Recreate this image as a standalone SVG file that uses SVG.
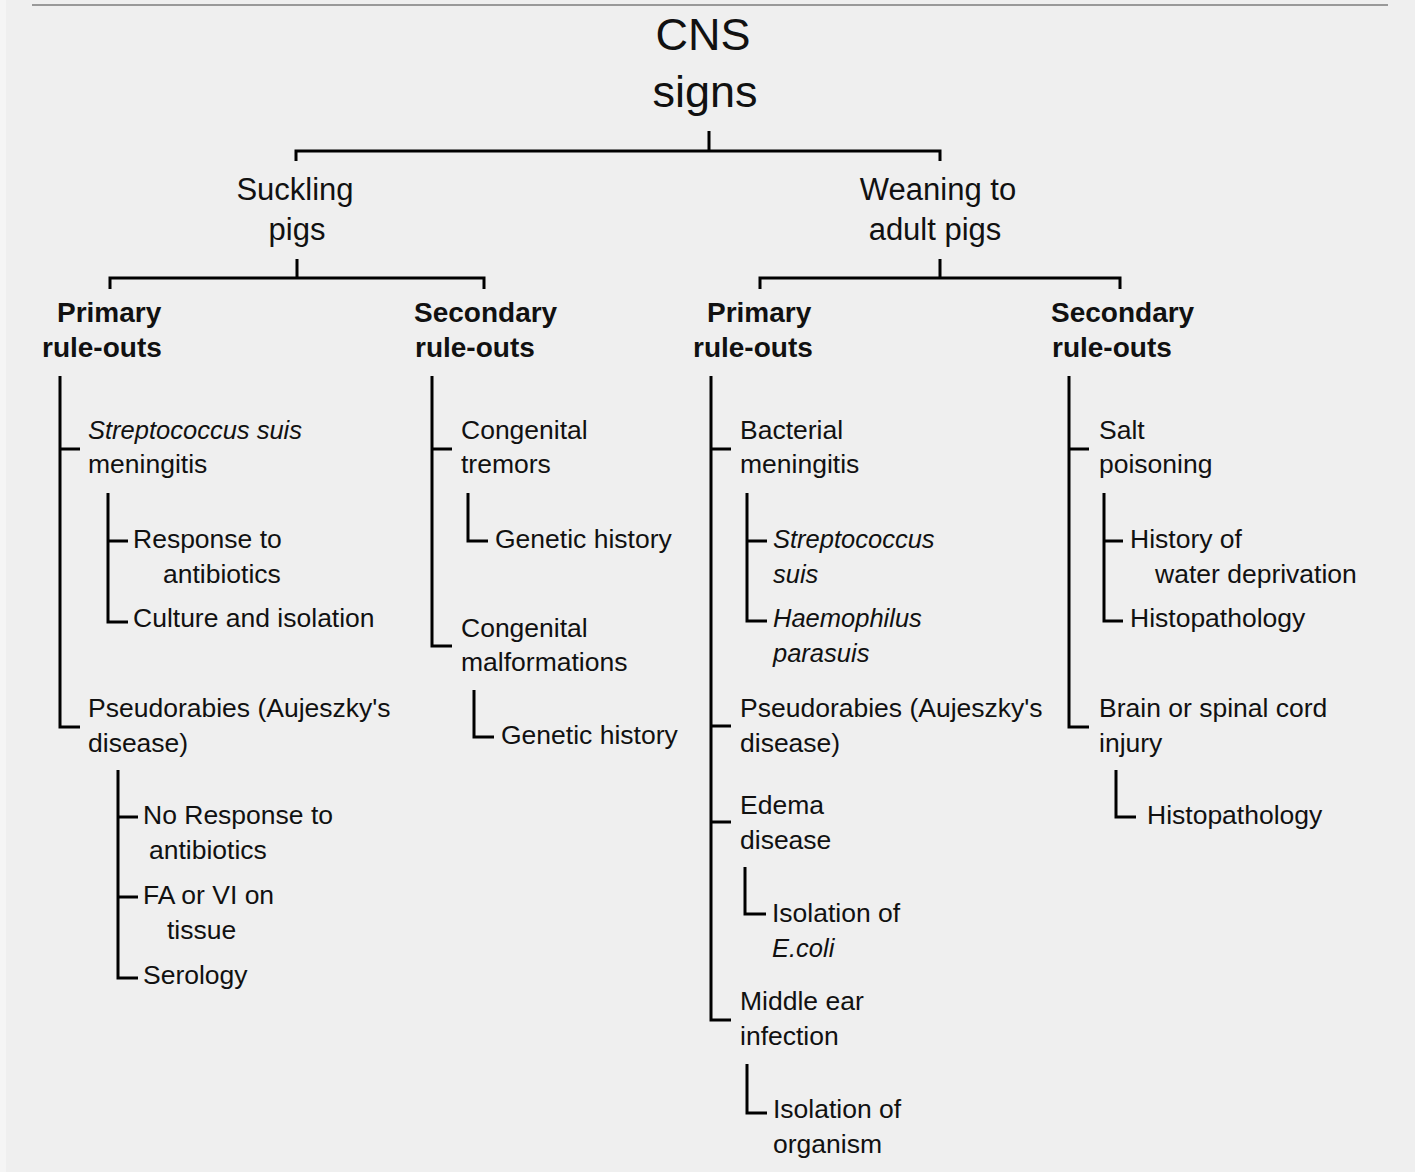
<svg xmlns="http://www.w3.org/2000/svg" width="1415" height="1172" viewBox="0 0 1415 1172">
<style>
text{font-family:"Liberation Sans",Arial,sans-serif;fill:#111;}
.t{font-size:26.5px;}
.i{font-style:italic;font-size:25.5px;}
.h{font-size:28px;font-weight:bold;}
.g{font-size:31px;text-anchor:middle;}
.r{font-size:45px;text-anchor:middle;}
.c{fill:none;stroke:#000;stroke-width:3;stroke-linecap:butt;stroke-linejoin:miter;}
</style>
<rect x="0" y="0" width="1415" height="1172" fill="#efefef"/>
<rect x="0" y="0" width="6" height="1172" fill="#f5f5f5"/>
<line x1="32" y1="5" x2="1388" y2="5" stroke="#999" stroke-width="2"/>
<g id="connectors" class="c">
<path class="c" d="M709 131V151M296 161V151H940V161"/>
<path class="c" d="M297 259V278M110 289V278H484V289"/>
<path class="c" d="M940 259V278M760 289V278H1120V289"/>
<path class="c" d="M60 376V727H80M60 449H80"/>
<path class="c" d="M108 493V622H128M108 541H128"/>
<path class="c" d="M118 770V978H138M118 817H138M118 897H138"/>
<path class="c" d="M432 376V646H452M432 449H452"/>
<path class="c" d="M468 493V541H488"/>
<path class="c" d="M474 690V737H494"/>
<path class="c" d="M711 376V1020H731M711 449H731M711 726H731M711 822H731"/>
<path class="c" d="M747 493V621H767M747 541H767"/>
<path class="c" d="M745 867V914H766"/>
<path class="c" d="M747 1064V1113H767"/>
<path class="c" d="M1069 376V727H1089M1069 449H1089"/>
<path class="c" d="M1104 493V621H1123M1104 541H1123"/>
<path class="c" d="M1116 770V817H1136"/>
</g>
<g id="root"><text class="r" x="703" y="50">CNS</text><text class="r" x="705" y="107">signs</text></g>
<g id="suckling"><text class="g" x="295" y="200">Suckling</text><text class="g" x="297" y="240">pigs</text></g>
<g id="weaning"><text class="g" x="938" y="200">Weaning to</text><text class="g" x="935" y="240">adult pigs</text></g>
<g id="s-primary"><text class="h" x="57" y="322">Primary</text><text class="h" x="42" y="357">rule-outs</text></g>
<g id="s-secondary"><text class="h" x="414" y="322">Secondary</text><text class="h" x="415" y="357">rule-outs</text></g>
<g id="w-primary"><text class="h" x="707" y="322">Primary</text><text class="h" x="693" y="357">rule-outs</text></g>
<g id="w-secondary"><text class="h" x="1051" y="322">Secondary</text><text class="h" x="1052" y="357">rule-outs</text></g>
<g id="strep-men"><text class="t i" x="88" y="439">Streptococcus suis</text><text class="t" x="88" y="473">meningitis</text></g>
<g id="resp-ab"><text class="t" x="133" y="548">Response to</text><text class="t" x="163" y="583">antibiotics</text></g>
<g id="culture"><text class="t" x="133" y="627">Culture and isolation</text></g>
<g id="pseudo-1"><text class="t" x="88" y="717">Pseudorabies (Aujeszky's</text><text class="t" x="88" y="752">disease)</text></g>
<g id="no-resp"><text class="t" x="143" y="824">No Response to</text><text class="t" x="149" y="859">antibiotics</text></g>
<g id="fa-vi"><text class="t" x="143" y="904">FA or VI on</text><text class="t" x="167" y="939">tissue</text></g>
<g id="serology"><text class="t" x="143" y="984">Serology</text></g>
<g id="cong-trem"><text class="t" x="461" y="439">Congenital</text><text class="t" x="461" y="473">tremors</text></g>
<g id="gen-1"><text class="t" x="495" y="548">Genetic history</text></g>
<g id="cong-malf"><text class="t" x="461" y="637">Congenital</text><text class="t" x="461" y="671">malformations</text></g>
<g id="gen-2"><text class="t" x="501" y="744">Genetic history</text></g>
<g id="bact-men"><text class="t" x="740" y="439">Bacterial</text><text class="t" x="740" y="473">meningitis</text></g>
<g id="strep"><text class="t i" x="773" y="548">Streptococcus</text><text class="t i" x="773" y="583">suis</text></g>
<g id="haemo"><text class="t i" x="773" y="627">Haemophilus</text><text class="t i" x="773" y="662">parasuis</text></g>
<g id="pseudo-2"><text class="t" x="740" y="717">Pseudorabies (Aujeszky's</text><text class="t" x="740" y="752">disease)</text></g>
<g id="edema"><text class="t" x="740" y="814">Edema</text><text class="t" x="740" y="849">disease</text></g>
<g id="iso-ecoli"><text class="t" x="772" y="922">Isolation of</text><text class="t i" x="772" y="957">E.coli</text></g>
<g id="middle-ear"><text class="t" x="740" y="1010">Middle ear</text><text class="t" x="740" y="1045">infection</text></g>
<g id="iso-org"><text class="t" x="773" y="1118">Isolation of</text><text class="t" x="773" y="1153">organism</text></g>
<g id="salt"><text class="t" x="1099" y="439">Salt</text><text class="t" x="1099" y="473">poisoning</text></g>
<g id="water"><text class="t" x="1130" y="548">History of</text><text class="t" x="1155" y="583">water deprivation</text></g>
<g id="histo-1"><text class="t" x="1130" y="627">Histopathology</text></g>
<g id="brain"><text class="t" x="1099" y="717">Brain or spinal cord</text><text class="t" x="1099" y="752">injury</text></g>
<g id="histo-2"><text class="t" x="1147" y="824">Histopathology</text></g>
</svg>
